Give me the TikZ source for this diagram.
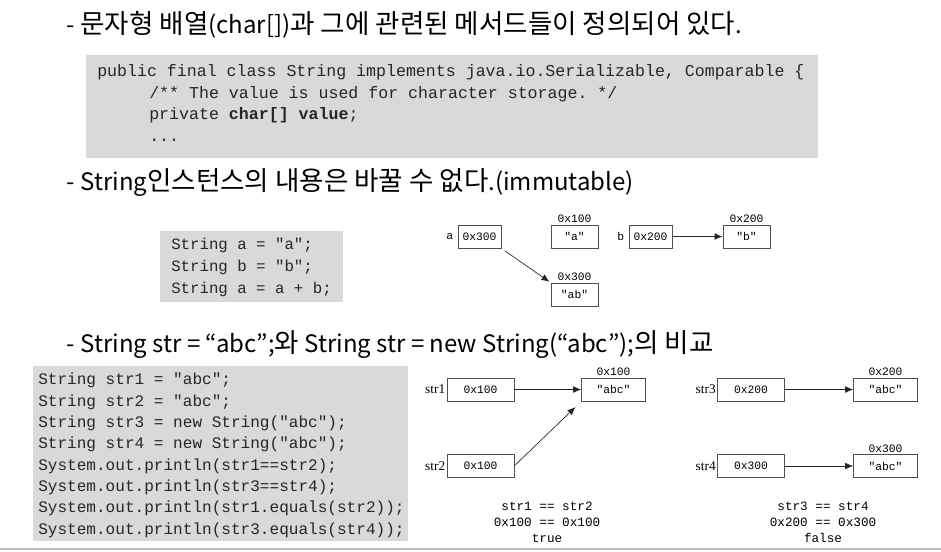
\documentclass[tikz,border=0pt]{standalone}
\usepackage{fontspec}
\setmonofont{Liberation Mono}
\newfontfamily\kofont{Noto Sans CJK KR}
\newfontfamily\serfont{Liberation Serif}
\usepackage{xcolor}
\usetikzlibrary{positioning,arrows.meta}
\definecolor{codegray}{HTML}{D9D9D9}
\definecolor{boxline}{HTML}{505050}
% hangul runs are set a little larger than the latin ones
\newcommand\kor[1]{{\fontsize{19.9}{22}\selectfont #1}}

\begin{document}
\begin{tikzpicture}[x=0.75pt,y=-0.75pt,
    head/.style={anchor=base west,inner sep=0pt,font=\kofont\fontsize{18}{22}\selectfont},
    code/.style={anchor=north west,inner sep=0pt,align=left,text=black!85},
    cell/.style={draw=boxline,line width=0.5pt,minimum height=17.5pt,inner sep=1pt,font=\ttfamily\fontsize{8.5}{10}\selectfont},
    ref/.style={cell,minimum width=32.5pt},
    val/.style={cell,minimum width=35.5pt},
    ref2/.style={cell,minimum width=50pt},
    val2/.style={cell,minimum width=48pt},
    addr/.style={inner sep=1pt,font=\ttfamily\fontsize{8.5}{10}\selectfont},
    var/.style={inner sep=1pt,font=\ttfamily\fontsize{8.5}{10}\selectfont},
    var2/.style={inner sep=1pt,font=\serfont\fontsize{10}{12}\selectfont},
    cmp/.style={align=center,inner sep=0pt,font=\ttfamily\fontsize{9.5}{12}\selectfont},
    ptr/.style={draw=black!85,line width=0.5pt,-{Latex[length=6pt,width=5pt]}}]
  \useasboundingbox (0,0) rectangle (941,551);
  \fill[white] (0,0) rectangle (941,551);

  % headings
  \node[head] (h1) at (66,33) {-\kor{ 문자형 배열}(char[])\kor{과 그에 관련된 메서드들이 정의되어 있다}.};
  \node[head] (h2) at (66,190) {-\kor{ }String\kor{인스턴스의 내용은 바꿀 수 없다}.(immutable)};
  \node[head] (h3) at (66,352) {-\kor{ }String str = “abc”;\kor{와} String str = new String(“abc”);\kor{의 비교}};

  % code panels
  \fill[codegray] (86,55) rectangle (818,158);
  \node[code,font=\ttfamily\fontsize{12.45}{16.3}\selectfont] (cls) at (97,64)
    {public final class String implements java.io.Serializable, Comparable \{\\
     \hspace*{39pt}/** The value is used for character storage. */\\
     \hspace*{39pt}private \textbf{char[] value};\\
     \hspace*{39pt}...};

  \fill[codegray] (160,231) rectangle (343,302);
  \node[code,font=\ttfamily\fontsize{11.8}{16.4}\selectfont] (ab) at (171,238)
    {String a = "a";\\
     String b = "b";\\
     String a = a + b;};

  \fill[codegray] (33,366) rectangle (408,541);
  \node[code,font=\ttfamily\fontsize{12.05}{16}\selectfont] (cmpcode) at (38,373)
    {String str1 = "abc";\\
     String str2 = "abc";\\
     String str3 = new String("abc");\\
     String str4 = new String("abc");\\
     System.out.println(str1==str2);\\
     System.out.println(str3==str4);\\
     System.out.println(str1.equals(str2));\\
     System.out.println(str3.equals(str4));};

  % a, b and a + b
  \node[ref] (ra) at (479.5,236.5) {0x300};
  \node[var,left=2pt of ra] (na) {a};
  \node[val] (sa) at (574.5,236.5) {"a"};
  \node[addr,above=0pt of sa] (pa) {0x100};
  \node[ref] (rb) at (650.5,236.5) {0x200};
  \node[var,left=2pt of rb] (nb) {b};
  \node[val] (sb) at (746.5,236.5) {"b"};
  \node[addr,above=0pt of sb] (pb) {0x200};
  \node[val] (sab) at (574.5,294.5) {"ab"};
  \node[addr,above=0pt of sab] (pab) {0x300};
  \draw[ptr] (rb) -- (sb);
  \draw[ptr,shorten <=3pt,shorten >=1pt] (ra.south east) -- (sab.north west);

  % str1 == str2
  \node[ref2] (r1) at (480.5,389.5) {0x100};
  \node[var2,left=0pt of r1] (n1) {str1};
  \node[ref2] (r2) at (480.5,466) {0x100};
  \node[var2,left=0pt of r2] (n2) {str2};
  \node[val2] (s1) at (613.5,389.5) {"abc"};
  \node[addr,above=0pt of s1] (p1) {0x100};
  \draw[ptr] (r1) -- (s1);
  \draw[ptr,shorten >=6pt] (r2.east) -- (s1.south west);
  \node[cmp] (c12) at (547,522) {str1 == str2\\0x100 == 0x100\\true};

  % str3 == str4
  \node[ref2] (r3) at (751,389.5) {0x200};
  \node[var2,left=0pt of r3] (n3) {str3};
  \node[ref2] (r4) at (751,466) {0x300};
  \node[var2,left=0pt of r4] (n4) {str4};
  \node[val2] (s3) at (885.5,389.5) {"abc"};
  \node[addr,above=0pt of s3] (p3) {0x200};
  \node[val2] (s4) at (885.5,466) {"abc"};
  \node[addr,above=0pt of s4] (p4) {0x300};
  \draw[ptr] (r3) -- (s3);
  \draw[ptr] (r4) -- (s4);
  \node[cmp] (c34) at (823,522) {str3 == str4\\0x200 == 0x300\\false};

  \draw[black!25,line width=1.5pt] (0,548.5) -- (941,548.5);
\end{tikzpicture}
\end{document}
